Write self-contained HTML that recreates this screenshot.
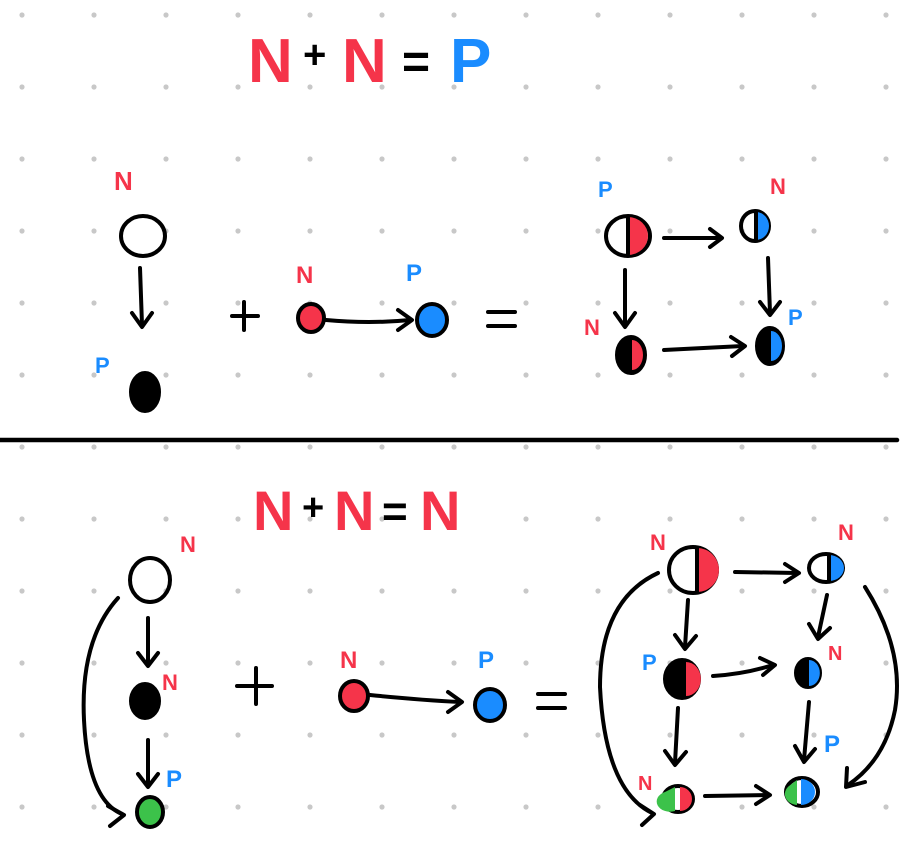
<!DOCTYPE html>
<html><head><meta charset="utf-8"><style>
html,body{margin:0;padding:0;background:#fff;}
svg{display:block;}
text{font-family:"Liberation Sans",sans-serif;font-weight:bold;}
</style></head><body>
<svg width="910" height="844" viewBox="0 0 910 844" xmlns="http://www.w3.org/2000/svg">
<defs>
<pattern id="g" x="16" y="9" width="72" height="72" patternUnits="userSpaceOnUse">
<circle cx="6" cy="6" r="2.6" fill="#c8c8c8"/>
</pattern>
</defs>
<rect width="910" height="844" fill="url(#g)"/>
<g fill="none" stroke="#000" stroke-width="4" stroke-linecap="round" stroke-linejoin="round">
<!-- top title -->
<text x="248" y="82" font-size="62" fill="#f5344a" stroke="none" font-weight="normal">N</text>
<text x="303" y="68" font-size="40" fill="#000" stroke="none" font-weight="normal">+</text>
<text x="342" y="82" font-size="62" fill="#f5344a" stroke="none" font-weight="normal">N</text>
<text x="402" y="78" font-size="48" fill="#000" stroke="none" font-weight="normal">=</text>
<text x="450" y="82" font-size="62" fill="#1a8cff" stroke="none" font-weight="normal">P</text>

<!-- top left -->
<text x="114" y="190" font-size="26" fill="#f5344a" stroke="none">N</text>
<ellipse cx="143" cy="236" rx="22" ry="20"/>
<path d="M140 268 L142 325"/><path d="M132 313 L142 327 L152 313"/>
<text x="95" y="373" font-size="22" fill="#1a8cff" stroke="none">P</text>
<ellipse cx="145" cy="392" rx="14" ry="19" fill="#000"/>
<path d="M232 316 H258 M244 302 V330"/>
<text x="296" y="283" font-size="24" fill="#f5344a" stroke="none">N</text>
<ellipse cx="311" cy="318" rx="13" ry="14" fill="#f5344a"/>
<path d="M326 320 Q370 324 410 320"/><path d="M398 310 L412 320 L398 330"/>
<text x="406" y="281" font-size="24" fill="#1a8cff" stroke="none">P</text>
<ellipse cx="432" cy="320" rx="15" ry="16" fill="#1a8cff"/>
<path d="M488 312 H515 M488 326 H515"/>

<!-- top right cluster -->
<text x="598" y="197" font-size="22" fill="#1a8cff" stroke="none">P</text>
<ellipse cx="628" cy="236" rx="22" ry="20"/>
<path d="M628 217 A20 19 0 0 1 628 255 Z" fill="#f5344a" stroke="none"/><path d="M628 218 V254"/>
<path d="M664 238 H720"/><path d="M710 229 L722 238 L710 247"/>
<text x="770" y="194" font-size="22" fill="#f5344a" stroke="none">N</text>
<ellipse cx="755" cy="226" rx="14" ry="15"/>
<path d="M756 212 A13 14 0 0 1 756 240 Z" fill="#1a8cff" stroke="none"/><path d="M756 212 V240"/>
<path d="M768 258 L770 313"/><path d="M760 302 L770 315 L780 302"/>
<text x="788" y="325" font-size="22" fill="#1a8cff" stroke="none">P</text>
<ellipse cx="770" cy="346" rx="13" ry="18" fill="#000"/>
<path d="M771 331 A11 15 0 0 1 771 361 Z" fill="#1a8cff" stroke="none"/>
<path d="M625 270 L625 325"/><path d="M615 313 L625 327 L635 313"/>
<text x="584" y="335" font-size="22" fill="#f5344a" stroke="none">N</text>
<ellipse cx="631" cy="355" rx="14" ry="18" fill="#000"/>
<path d="M632 340 A11 15 0 0 1 632 370 Z" fill="#f5344a" stroke="none"/>
<path d="M664 350 L743 346"/><path d="M731 337 L745 346 L732 356"/>

<!-- divider -->
<path d="M0 440 H897" stroke-width="4.5"/>

<!-- bottom title -->
<text x="253" y="530" font-size="56" fill="#f5344a" stroke="none" font-weight="normal">N</text>
<text x="302" y="520" font-size="38" fill="#000" stroke="none" font-weight="normal">+</text>
<text x="334" y="530" font-size="56" fill="#f5344a" stroke="none" font-weight="normal">N</text>
<text x="382" y="526" font-size="44" fill="#000" stroke="none" font-weight="normal">=</text>
<text x="420" y="530" font-size="56" fill="#f5344a" stroke="none" font-weight="normal">N</text>

<!-- bottom left -->
<text x="180" y="552" font-size="22" fill="#f5344a" stroke="none">N</text>
<ellipse cx="150" cy="580" rx="20" ry="22"/>
<path d="M118 598 Q80 640 84 720 Q88 800 122 814"/><path d="M108 806 L124 815 L110 826"/>
<path d="M148 618 L148 664"/><path d="M138 653 L148 666 L158 653"/>
<text x="162" y="690" font-size="22" fill="#f5344a" stroke="none">N</text>
<ellipse cx="145" cy="701" rx="14" ry="17" fill="#000"/>
<path d="M148 740 L148 785"/><path d="M138 774 L148 787 L158 774"/>
<text x="166" y="787" font-size="24" fill="#1a8cff" stroke="none">P</text>
<ellipse cx="150" cy="812" rx="13" ry="15" fill="#3cc24a"/>
<path d="M237 686 H272 M256 668 V704"/>
<text x="340" y="668" font-size="24" fill="#f5344a" stroke="none">N</text>
<ellipse cx="354" cy="696" rx="14" ry="15" fill="#f5344a"/>
<path d="M370 695 Q420 700 460 702"/><path d="M448 692 L462 702 L448 712"/>
<text x="478" y="668" font-size="24" fill="#1a8cff" stroke="none">P</text>
<ellipse cx="490" cy="705" rx="15" ry="16" fill="#1a8cff"/>
<path d="M538 694 H565 M538 708 H565"/>

<!-- bottom right cluster -->
<text x="650" y="550" font-size="22" fill="#f5344a" stroke="none">N</text>
<ellipse cx="693" cy="570" rx="24" ry="23"/>
<path d="M697 548 A22 22 0 0 1 697 592 Z" fill="#f5344a" stroke="none"/><path d="M697 548 V592"/>
<path d="M735 572 L797 573"/><path d="M785 564 L799 573 L785 582"/>
<text x="838" y="540" font-size="22" fill="#f5344a" stroke="none">N</text>
<ellipse cx="826" cy="568" rx="17" ry="14"/>
<path d="M829 555 A15 13 0 0 1 829 581 Z" fill="#1a8cff" stroke="none"/><path d="M829 555 V581"/>
<path d="M827 595 L818 637"/><path d="M809 624 L818 639 L830 628"/>
<text x="828" y="660" font-size="20" fill="#f5344a" stroke="none">N</text>
<ellipse cx="808" cy="673" rx="12" ry="14" fill="#000"/>
<path d="M809 660 A10 12 0 0 1 809 686 Z" fill="#1a8cff" stroke="none"/>
<path d="M713 676 Q745 674 773 665"/><path d="M760 658 L775 665 L763 675"/>
<text x="642" y="670" font-size="22" fill="#1a8cff" stroke="none">P</text>
<ellipse cx="682" cy="679" rx="17" ry="19" fill="#000"/>
<path d="M686 662 A14 16 0 0 1 686 696 Z" fill="#f5344a" stroke="none"/>
<path d="M688 600 L685 647"/><path d="M675 635 L685 649 L696 636"/>
<path d="M678 708 L675 763"/><path d="M665 751 L675 765 L686 752"/>
<text x="638" y="790" font-size="20" fill="#f5344a" stroke="none">N</text>
<ellipse cx="678" cy="799" rx="15" ry="13"/>
<path d="M665 792 A13 10 0 0 0 675 811 V787 Z" fill="#3cc24a" stroke="none"/>
<path d="M680 787 A12 12 0 0 1 680 811 Z" fill="#f5344a" stroke="none"/>
<path d="M705 796 L768 795"/><path d="M756 786 L770 795 L756 804"/>
<text x="824" y="752" font-size="24" fill="#1a8cff" stroke="none">P</text>
<ellipse cx="802" cy="792" rx="16" ry="14"/>
<path d="M789 786 A13 11 0 0 0 797 805 V780 Z" fill="#3cc24a" stroke="none"/>
<path d="M801 779 A14 13 0 0 1 801 805 Z" fill="#1a8cff" stroke="none"/>
<path d="M809 702 L804 760"/><path d="M795 746 L804 762 L815 749"/>
<path d="M865 587 Q905 650 895 710 Q885 760 848 785"/><path d="M847 768 L846 787 L865 782"/>
<path d="M658 573 Q600 600 600 687 Q605 790 652 813"/><path d="M640 805 L654 814 L642 825"/>
</g>
</svg>
</body></html>
